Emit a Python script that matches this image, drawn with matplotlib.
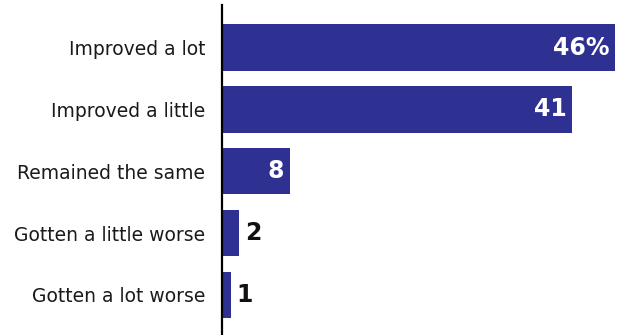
import matplotlib
matplotlib.use("Agg")
import matplotlib.pyplot as plt

CATEGORIES = [
    "Improved a lot",
    "Improved a little",
    "Remained the same",
    "Gotten a little worse",
    "Gotten a lot worse",
]
VALUES = [46, 41, 8, 2, 1]
VALUE_LABELS = ["46%", "41", "8", "2", "1"]

BAR_COLOR = "#2e3192"

plt.rcParams["font.family"] = ["DejaVu Sans"]

fig = plt.figure(figsize=(6.17, 3.35), dpi=100)
ax = fig.add_axes([222 / 617, 0.0, 393 / 617, 330 / 335])

ys = list(range(len(CATEGORIES)))
ax.barh(ys, VALUES, height=0.75, color=BAR_COLOR)

for y, v, lab in zip(ys, VALUES, VALUE_LABELS):
    if v >= 5:
        ax.text(v - 0.7, y, lab, ha="right", va="center", color="white",
                fontsize=17, fontweight="bold")
    else:
        ax.text(v + 0.7, y, lab, ha="left", va="center", color="#111111",
                fontsize=17, fontweight="bold")

ax.set_xlim(0, 46)
ax.set_ylim(4.65, -0.69)
ax.set_yticks(ys)
ax.set_yticklabels(CATEGORIES, fontsize=13.5, color="#1a1a1a")
ax.tick_params(axis="y", length=0, pad=12)
ax.set_xticks([])
for side in ("top", "right", "bottom"):
    ax.spines[side].set_visible(False)
ax.spines["left"].set_linewidth(1.6)
ax.spines["left"].set_color("black")

fig.savefig("out.png", dpi=100)
